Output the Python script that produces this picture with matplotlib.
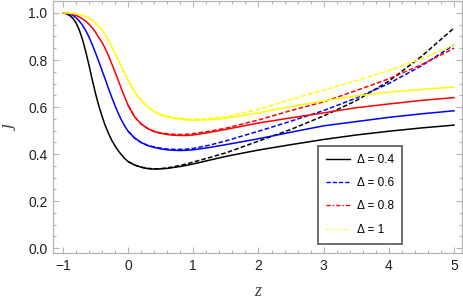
import matplotlib
matplotlib.use("Agg")
import matplotlib.pyplot as plt
from matplotlib.lines import Line2D
from matplotlib.ticker import MultipleLocator, FormatStrFormatter

# solid curves
z_solid = [-1, -0.95, -0.9, -0.85, -0.8, -0.75, -0.7, -0.65, -0.6, -0.55, -0.5, -0.45,
           -0.4, -0.35, -0.3, -0.25, -0.2, -0.15, -0.1, -0.05, 0, 0.1, 0.2, 0.3, 0.4,
           0.5, 0.6, 0.7, 0.8, 0.9, 1.0, 1.25, 1.5, 2, 2.5, 3, 3.5, 4, 4.5, 5]
j_04 = [1.0, 0.997, 0.99, 0.978, 0.958, 0.928, 0.887, 0.835, 0.777, 0.715, 0.657, 0.605,
        0.56, 0.52, 0.487, 0.458, 0.434, 0.413, 0.396, 0.38, 0.368, 0.353, 0.344, 0.338, 0.336,
        0.337, 0.339, 0.343, 0.347, 0.352, 0.358, 0.374, 0.39, 0.417, 0.44, 0.462, 0.481, 0.497,
        0.511, 0.523]
j_06 = [1.0, 0.999, 0.996, 0.99, 0.98, 0.966, 0.948, 0.925, 0.897, 0.865, 0.83, 0.793,
        0.755, 0.717, 0.678, 0.64, 0.605, 0.572, 0.543, 0.518, 0.497, 0.468, 0.449, 0.436, 0.428,
        0.422, 0.418, 0.416, 0.415, 0.416, 0.418, 0.428, 0.44, 0.465, 0.493, 0.52, 0.538, 0.556,
        0.571, 0.584]
j_08 = [1.0, 0.999, 0.998, 0.995, 0.99, 0.983, 0.975, 0.965, 0.952, 0.937, 0.918, 0.895,
        0.875, 0.848, 0.817, 0.783, 0.748, 0.712, 0.675, 0.64, 0.607, 0.558, 0.528, 0.508, 0.495,
        0.488, 0.483, 0.48, 0.479, 0.479, 0.481, 0.492, 0.505, 0.532, 0.554, 0.575, 0.597, 0.613,
        0.628, 0.64]
j_10 = [1.0, 1.0, 0.999, 0.998, 0.996, 0.993, 0.99, 0.985, 0.978, 0.969, 0.958, 0.944,
        0.927, 0.906, 0.882, 0.856, 0.828, 0.8, 0.771, 0.742, 0.714, 0.665, 0.628, 0.6, 0.58,
        0.567, 0.558, 0.552, 0.548, 0.545, 0.544, 0.546, 0.552, 0.575, 0.602, 0.626, 0.647, 0.663,
        0.675, 0.685]

# dashed curves
z_dash = [0, 0.1, 0.2, 0.3, 0.4, 0.5, 0.6, 0.7, 0.8, 0.9, 1.0, 1.25, 1.5, 2, 2.5, 3, 3.5, 4, 4.5, 5]
jd_04 = [0.368, 0.353, 0.344, 0.339, 0.337, 0.338, 0.341, 0.346, 0.352, 0.358, 0.366, 0.385,
         0.405, 0.455, 0.505, 0.562, 0.627, 0.71, 0.815, 0.936]
jd_06 = [0.497, 0.468, 0.449, 0.437, 0.43, 0.425, 0.421, 0.42, 0.42, 0.421, 0.424, 0.438,
         0.456, 0.497, 0.54, 0.585, 0.638, 0.7, 0.775, 0.864]
jd_08 = [0.607, 0.558, 0.528, 0.509, 0.497, 0.49, 0.486, 0.484, 0.483, 0.484, 0.487, 0.497,
         0.51, 0.545, 0.585, 0.622, 0.67, 0.72, 0.78, 0.85]
jd_10 = [0.714, 0.665, 0.628, 0.601, 0.582, 0.569, 0.561, 0.555, 0.552, 0.549, 0.548, 0.552,
         0.558, 0.59, 0.632, 0.672, 0.712, 0.755, 0.805, 0.864]

labels = ["Δ = 0.4", "Δ = 0.6", "Δ = 0.8", "Δ = 1"]
colors = ["black", "#0000ff", "#ff0000", "#ffff00"]
legend_styles = ["-", (0, (3, 1.5)), (0, (3, 1.5, 1, 1.5)), (0, (1, 1.5))]

fig = plt.figure(figsize=(4.63, 3.03), dpi=100)
ax = fig.add_axes([53 / 463, 50 / 303, 409 / 463, 252 / 303])

for js, jd, c in zip([j_04, j_06, j_08, j_10], [jd_04, jd_06, jd_08, jd_10], colors):
    ax.plot(z_solid, js, color=c, lw=1.1)
    ax.plot(z_dash, jd, color=c, lw=1.1, ls=(0, (3, 1.5)))

ax.set_xlim(-1.153, 5.123)
ax.set_ylim(-0.021, 1.051)

ax.xaxis.set_major_locator(MultipleLocator(1))
ax.xaxis.set_minor_locator(MultipleLocator(0.2))
ax.yaxis.set_major_locator(MultipleLocator(0.2))
ax.yaxis.set_minor_locator(MultipleLocator(0.05))
ax.yaxis.set_major_formatter(FormatStrFormatter("%.1f"))

gray = "#b5b5b5"
for s in ax.spines.values():
    s.set_color(gray)
    s.set_linewidth(0.9)
ax.tick_params(which="both", direction="in", top=True, right=True, color=gray,
               labelsize=10, labelcolor="#222222", width=0.8)
ax.tick_params(which="major", length=4, pad=4)
ax.tick_params(which="minor", length=2.2)
for t in ax.get_xticklabels() + ax.get_yticklabels():
    t.set_family("Liberation Sans")

ax.set_xlabel("z", fontsize=13, family="Liberation Serif", style="italic", color="#444444")
ax.set_ylabel("j", fontsize=14, family="Liberation Serif", style="italic", color="#444444")
ax.xaxis.set_label_coords(0.501, -0.118)
ax.yaxis.set_label_coords(-0.085, 0.496)

handles = [Line2D([], [], color=c, lw=1.0, ls=s) for c, s in zip(colors, legend_styles)]
leg = ax.legend(handles, labels, loc="lower left", bbox_to_anchor=(0.648, 0.036, 0.205, 0.373),
                mode="expand", fancybox=False, framealpha=1, edgecolor="#555555",
                prop={"family": "Liberation Sans", "size": 8.5},
                handlelength=2.0, labelspacing=0.95, borderpad=0.7, handletextpad=0.6,
                borderaxespad=0)
leg.get_frame().set_linewidth(1.2)

fig.savefig("out.png", dpi=100)
